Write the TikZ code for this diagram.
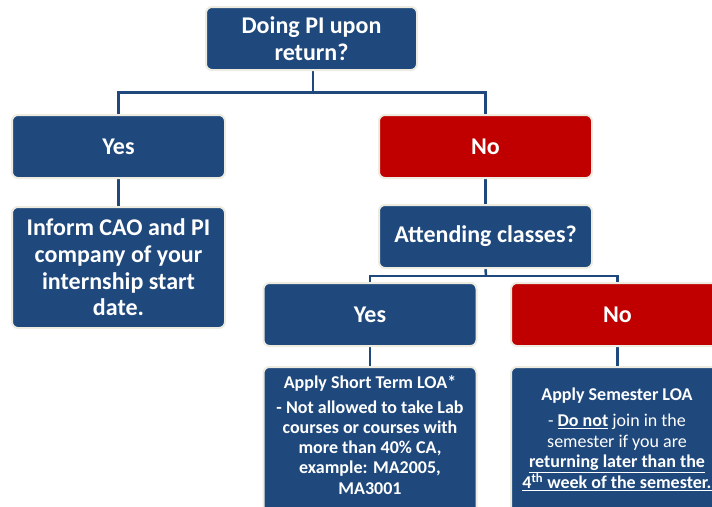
\documentclass[tikz,border=0pt]{standalone}
\usepackage{fontspec}
\setmainfont{Carlito}
\usetikzlibrary{backgrounds}
\definecolor{boxblue}{HTML}{1F497D}
\definecolor{boxred}{HTML}{C00000}
\definecolor{rim}{HTML}{EEECE1}
\begin{document}
\begin{tikzpicture}[x=1pt,y=-1pt,
  box/.style={draw=rim, line width=2pt, rounded corners=6pt, fill=boxblue,
    text=white, font=\bfseries\fontsize{24}{26.7}\selectfont, align=center,
    inner sep=0pt, minimum width=213pt, minimum height=63pt},
  redbox/.style={box, fill=boxred},
  smalltext/.style={text=white, align=center, inner sep=0pt, anchor=north,
    font=\fontsize{18}{20.7}\selectfont},
  conn/.style={draw=boxblue, line width=2.5pt}]
\useasboundingbox (0,0) rectangle (712,506);
\clip (0,0) rectangle (712,506);
% nodes
\node[box, minimum width=211pt] (top) at (311.5,38.5) {Doing PI upon\\return?};
\node[box] (yes1) at (118.5,146.5) {Yes};
\node[redbox] (no1) at (485.5,146.5) {No};
\node[box, minimum height=121pt] (inform) at (118.5,267.5) {Inform CAO and PI\\company of your\\internship start\\date.};
\node[box] (attend) at (485.5,236.5) {Attending classes?};
\node[box] (yes2) at (370,314.5) {Yes};
\node[redbox] (no2) at (617.5,314.5) {No};
\node[box, anchor=north, minimum height=150pt] (short) at (370,366) {};
\node[box, anchor=north, minimum height=150pt] (sem) at (617.5,366) {};
\node[smalltext, font=\bfseries\fontsize{18}{20.2}\selectfont] (shorttext) at (370,375) {Apply Short Term LOA*\\[5pt]
  - Not allowed to take Lab\\courses or courses with\\more than 40\% CA,\\example: MA2005,\\MA3001};
\node[smalltext] (semtext) at (617,388) {\textbf{Apply Semester LOA}\\[5pt]
  - \textbf{\underline{Do not}} join in the\\semester if you are\\
  \textbf{\underline{returning later than the}}\\
  \textbf{\underline{4\textsuperscript{th} week of the semester.}}};
% connectors
\coordinate (j1) at (313,92.5);
\coordinate (j2) at (486,276);
\begin{scope}[on background layer]
\draw[conn] (top.south -| j1) -- (j1);
\draw[conn] (yes1.north) -- (yes1.north |- j1) -- (no1.north |- j1) -- (no1.north);
\draw[conn] (yes1.south) -- (inform.north);
\draw[conn] (no1.south) -- (attend.north);
\draw[conn] (attend.south) -- (j2);
\draw[conn] (yes2.north) -- (yes2.north |- j2) -- (no2.north |- j2) -- (no2.north);
\draw[conn] (yes2.south) -- (short.north);
\draw[conn] (no2.south) -- (sem.north);
\end{scope}
\end{tikzpicture}
\end{document}
